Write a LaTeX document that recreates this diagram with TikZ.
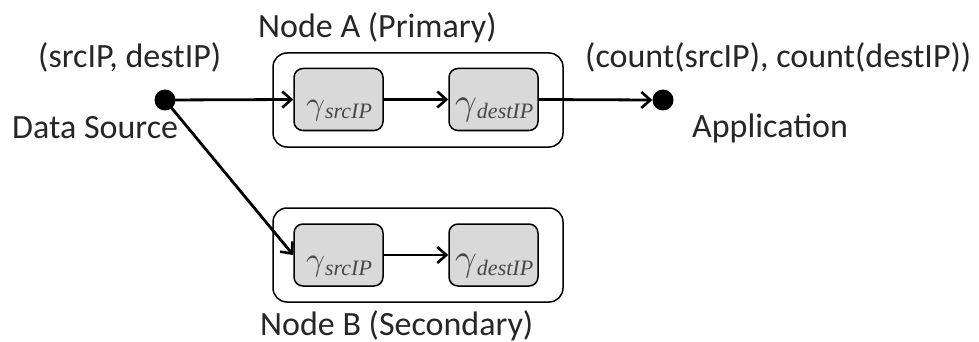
\documentclass[tikz,border=0pt]{standalone}
\usepackage{fontspec}
\usepackage{graphicx}
\setmainfont{Carlito}
\newfontfamily\tnr{Liberation Serif}
\usetikzlibrary{arrows.meta}
\definecolor{txt}{HTML}{262626}
\definecolor{boxfill}{HTML}{D9D9D9}
\newcommand{\gsmall}{\scalebox{3.3}{$\gamma$}}
\newcommand{\gbig}{\scalebox{3.8}{$\gamma$}}
\begin{document}
\begin{tikzpicture}[x=1pt,y=-1pt,
  lbl/.style={inner sep=0pt,text=txt,font=\fontsize{34}{34}\selectfont},
  outer/.style={draw=black,line width=1.5pt,rounded corners=14pt,inner sep=0pt},
  inner/.style={draw=black,fill=boxfill,line width=1.5pt,rounded corners=9pt,inner sep=0pt},
  gam/.style={inner sep=0pt,text=txt!85!white},
  dot/.style={circle,fill=black,inner sep=0pt,minimum size=21pt},
  conn/.style={line width=2.8pt,-{Straight Barb[length=9pt,width=16pt,line width=2.6pt]}}
]
\useasboundingbox (0,0) rectangle (979,342);
% outer boxes
\node[outer,minimum width=290pt,minimum height=94pt] (boxA) at (418,100) {};
\node[outer,minimum width=290pt,minimum height=94pt] (boxB) at (418,255) {};
% inner boxes
\node[inner,minimum width=89pt,minimum height=62pt] (asrc) at (338.5,99.5) {};
\node[inner,minimum width=89pt,minimum height=62pt] (adest) at (493.5,99.5) {};
\node[inner,minimum width=89pt,minimum height=62pt] (bsrc) at (338.5,255) {};
\node[inner,minimum width=89pt,minimum height=62pt] (bdest) at (493.5,255) {};
% gamma labels
\node[gam,anchor=base west] (gas) at (306,114) {\gsmall\raisebox{-5pt}{\tnr\itshape\fontsize{22}{22}\selectfont srcIP}};
\node[gam,anchor=base west] (gad) at (455,114) {\gbig\raisebox{-5pt}{\tnr\itshape\fontsize{22}{22}\selectfont destIP}};
\node[gam,anchor=base west] (gbs) at (306,270) {\gsmall\raisebox{-5pt}{\tnr\itshape\fontsize{22}{22}\selectfont srcIP}};
\node[gam,anchor=base west] (gbd) at (455,270) {\gbig\raisebox{-5pt}{\tnr\itshape\fontsize{22}{22}\selectfont destIP}};
% dots
\node[dot] (ds) at (165,100) {};
\node[dot] (app) at (663,100) {};
% text labels
\node[lbl,anchor=base west] (l1) at (38,68) {(srcIP, destIP)};
\node[lbl,anchor=base west] (l2) at (12,139) {Data Source};
\node[lbl,anchor=base west] (l3) at (258,38) {Node A (Primary)};
\node[lbl,anchor=base west] (l4) at (585,68) {(count(srcIP), count(destIP))};
\node[lbl,anchor=base west] (l5) at (692,138) {Application};
\node[lbl,anchor=base west] (l6) at (260,335) {Node B (Secondary)};
% connectors
\draw[conn] (ds.center) -- (asrc.west);
\draw[conn] (asrc.east) -- (adest.west);
\draw[conn] (adest.east) -- (app.west);
\draw[conn] (ds.center) -- (bsrc.west);
\draw[conn] (bsrc.east) -- (bdest.west);
\end{tikzpicture}
\end{document}
